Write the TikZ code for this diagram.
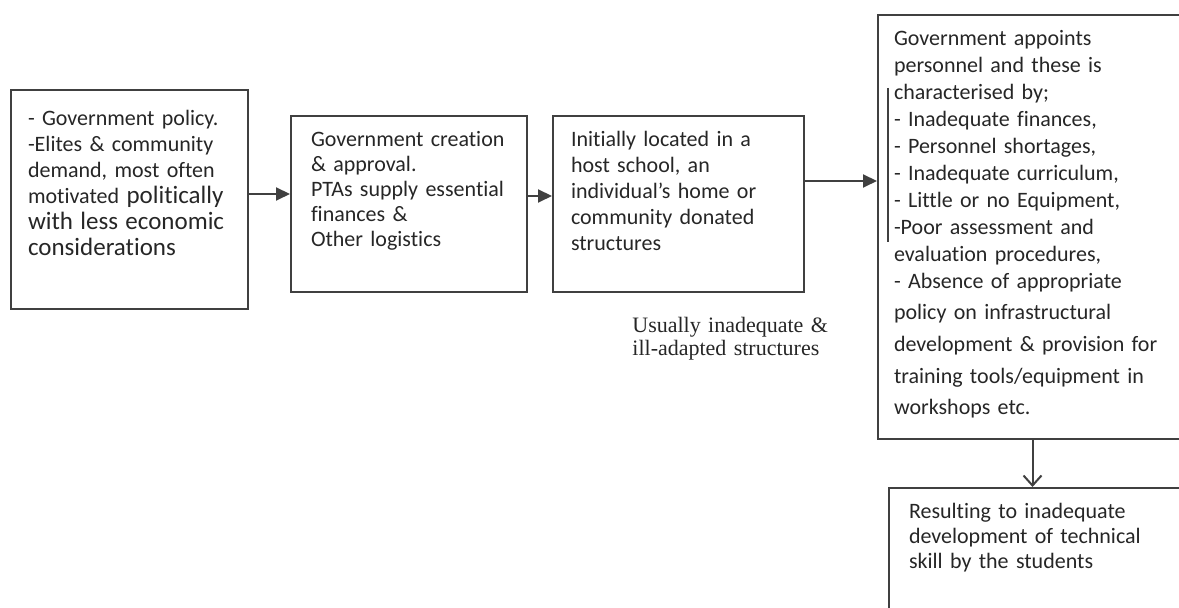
\documentclass[tikz,border=0pt]{standalone}
\usepackage{fontspec}
\setmainfont{Carlito}[Ligatures=NoCommon]
\newfontfamily\timesfont{Liberation Serif}
\usetikzlibrary{arrows.meta}
\definecolor{linegray}{HTML}{404040}
\definecolor{textgray}{HTML}{262626}

\tikzset{
  box/.style={draw=linegray, line width=1pt, anchor=north west, align=left,
    inner ysep=8pt, text height=7.5pt, text=textgray,
    font=\fontsize{11}{12.7}\selectfont},
  arr/.style={-{Triangle[length=7pt,width=6.5pt]}, line width=1pt, draw=linegray},
  down/.style={-{Straight Barb[length=5pt,width=9pt]}, line width=1pt, draw=linegray}
}

\begin{document}
\begin{tikzpicture}[x=0.5pt,y=-0.5pt]
    \path[use as bounding box, clip] (0,0) rectangle (1179,608);

    % Boxes
    \node[box, inner xsep=8.5pt, text width=101.5pt, text height=10pt, text depth=83.5pt,
      font=\fontsize{11}{13}\selectfont] (gov) at (10,89)
      {- Government policy.\\
       -Elites \& community\\
       demand, most often\\
       motivated {\fontsize{12.5}{14}\selectfont politically}\\
       {\fontsize{12.5}{14}\selectfont with less economic}\\
       {\fontsize{12.5}{14}\selectfont considerations}};
    \node[box, inner xsep=10pt, text width=98pt, text depth=64.5pt,
      font=\fontsize{11}{12.5}\selectfont] (create) at (290,115)
      {Government creation\\
       \& approval.\\
       PTAs supply essential\\
       finances \&\\
       Other logistics};
    \node[box, inner xsep=9pt, text width=107.5pt, text depth=64.5pt,
      font=\fontsize{11}{13}\selectfont] (locate) at (552,115)
      {Initially located in a\\
       host school, an\\
       individual’s home or\\
       community donated\\
       structures};
    \node[box, inner xsep=8pt, text width=138.5pt, text depth=188.5pt,
      font=\fontsize{11}{13.45}\selectfont] (appoint) at (877,14)
      {Government appoints\\
       personnel and these is\\
       characterised by;\\
       - Inadequate finances,\\
       - Personnel shortages,\\
       - Inadequate curriculum,\\
       - Little or no Equipment,\\
       -Poor assessment and\\
       evaluation procedures,\\
       - Absence of appropriate\\[2.4pt]
       policy on infrastructural\\[2.4pt]
       development \& provision for\\[2.4pt]
       training tools/equipment in\\[2.4pt]
       workshops etc.};
    \node[box, inner xsep=10pt, text width=129pt, text depth=43pt,
      font=\fontsize{11}{12.5}\selectfont] (result) at (888,487)
      {Resulting to inadequate\\
       development of technical\\
       skill by the students};

    % Note under the third box
    \node[anchor=north west, inner sep=0pt, align=left, text width=110pt,
      text height=8pt, text=textgray,
      font=\timesfont\fontsize{11}{11.5}\selectfont] (usual) at (632,316)
      {Usually inadequate \&\\ill-adapted structures};

    % Arrows
    \draw[arr] ([yshift=2.75pt]gov.east) -- ([yshift=2.75pt]gov.east -| create.west);
    \draw[arr] ([yshift=4pt]create.east) -- ([yshift=4pt]create.east -| locate.west);
    \draw[arr] ([yshift=11.5pt]locate.east) -- ([yshift=11.5pt]locate.east -| appoint.west);
    \draw[down] (appoint.south) -- (appoint.south |- result.north);

    % Stray mark in the fourth box
    \draw[linegray, line width=0.8pt] (888,88) -- (888,242);
\end{tikzpicture}
\end{document}
